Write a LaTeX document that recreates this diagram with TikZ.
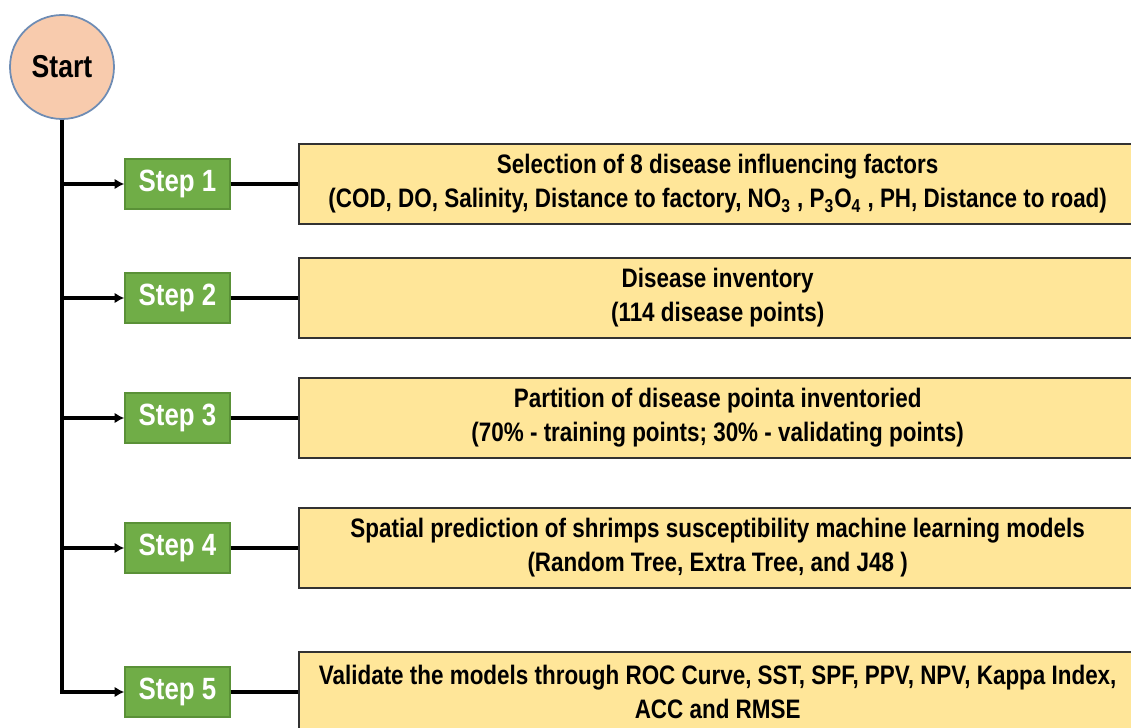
\documentclass[tikz,border=0pt]{standalone}
\usepackage{fontspec}
\setmainfont[FakeStretch=0.84]{Liberation Sans}
\definecolor{startfill}{RGB}{248,203,173}
\definecolor{startdraw}{RGB}{110,140,180}
\definecolor{stepfill}{RGB}{112,173,71}
\definecolor{stepdraw}{RGB}{90,145,55}
\definecolor{taskfill}{RGB}{255,230,153}
\definecolor{taskdraw}{RGB}{50,50,50}
\usetikzlibrary{
	arrows.meta,
	positioning
}
\tikzset{
  % arrow
	cstra/.style      ={-{Latex[length=5.5pt,width=6pt]}, line width=2.2pt}, % right arrow
	cstline/.style    ={line width=1.8pt},           % plain link
  % node
	cststart/.style   ={circle,fill=startfill,draw=startdraw,line width=1pt,minimum size=2.08cm,inner sep=0pt,font=\bfseries\fontsize{18}{21}\selectfont},
	cststep/.style    ={fill=stepfill,draw=stepdraw,text=white,line width=0.8pt,minimum width=2.1cm,minimum height=1.0cm,inner sep=0pt,font=\bfseries\fontsize{17.5}{20}\selectfont},
	csttask/.style    ={fill=taskfill,draw=taskdraw,text=black,line width=1.1pt,minimum width=16.76cm,minimum height=1.6cm,inner sep=0pt,align=center,font=\bfseries\fontsize{15.2}{19.3}\selectfont}
}
\begin{document}
\begin{tikzpicture}
	\useasboundingbox (0,0) rectangle (22.62,14.54);
	\node[cststart] (start) at (1.24,13.2) {Start};
	% steps
	\node[cststep] (step1) at (3.55,10.86) {Step 1};
	\node[cststep] (step2) at (3.55,8.58) {Step 2};
	\node[cststep] (step3) at (3.55,6.18) {Step 3};
	\node[cststep] (step4) at (3.55,3.58) {Step 4};
	\node[cststep] (step5) at (3.55,0.70) {Step 5};
	% tasks
	\node[csttask,right=1.34cm of step1] (task1) {Selection of 8 disease influencing factors\\(COD, DO, Salinity, Distance to factory, NO\textsubscript{3} , P\textsubscript{3}O\textsubscript{4} , PH, Distance to road)};
	\node[csttask,right=1.34cm of step2] (task2) {Disease inventory\\(114 disease points)};
	\node[csttask,right=1.34cm of step3] (task3) {Partition of disease pointa inventoried\\(70\% - training points; 30\% - validating points)};
	\node[csttask,right=1.34cm of step4] (task4) {Spatial prediction of shrimps susceptibility machine learning models\\(Random Tree, Extra Tree, and J48 )};
	\node[csttask,right=1.34cm of step5] (task5) {Validate the models through ROC Curve, SST, SPF, PPV, NPV, Kappa Index,\\ACC and RMSE};
	% links
	\draw[cstra] (start.south) |- (step5.west);
	\foreach \i in {1,...,4}
		\draw[cstra] (start.south |- step\i.west) -- (step\i.west);
	\foreach \i in {1,...,5}
		\draw[cstline] (step\i.east) -- (task\i.west);
\end{tikzpicture}
\end{document}
